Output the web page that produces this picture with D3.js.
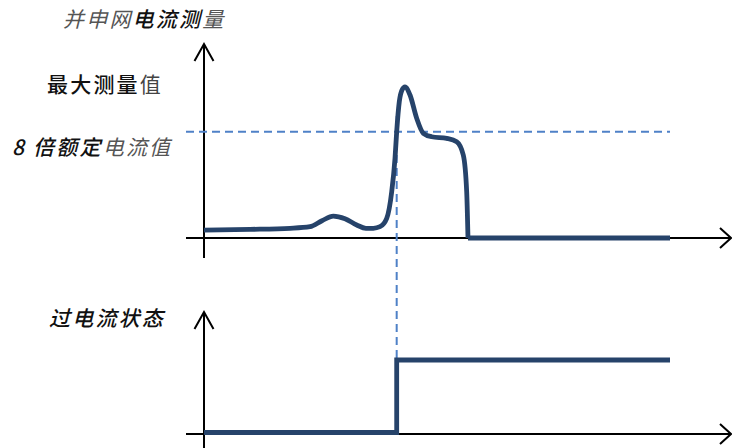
<!DOCTYPE html>
<html>
<head>
<meta charset="utf-8">
<script src="https://cdn.jsdelivr.net/npm/d3@7"></script>
<style>
  html, body { margin: 0; padding: 0; background: #fff; }
  svg { display: block; }
  text { font-family: "Noto Sans CJK SC", "Noto Sans", sans-serif; }
</style>
</head>
<body>
<svg id="chart" width="732" height="448"></svg>
<script>
// ---- data ----
// time (arbitrary units 0..100) and measured current (multiples of rated current)
const curveTime = [0, 9.87, 18.45, 22.75, 25.32, 27.75, 30.26, 32.77, 34.76, 36.33, 37.77, 39.21, 40.28, 40.99, 41.35, 41.91, 42.49, 43.13, 44.21, 45.64, 47.06, 48.86, 52.08, 54.23, 55.64, 56.37, 56.65];
const curveCurrent = [0.60, 0.65, 0.73, 0.85, 1.30, 1.65, 1.45, 0.98, 0.73, 0.73, 0.85, 1.48, 3.48, 6.00, 8.00, 10.26, 11.14, 11.38, 10.76, 9.01, 7.88, 7.62, 7.50, 7.25, 6.25, 3.48, 0];
const tailTime = [56.65, 100];
const tailCurrent = [0, 0];
// over-current state (0 = off, 1 = on)
const stateTime = [0, 41.35, 100];
const stateValue = [0, 1, 1];
const thresholdValue = 8;     // 8x rated current
const tripTime = 41.35;

// labels
const titleParts = [["并申网", "normal", "#555"], ["电流测", "500", "#111"], ["量", "normal", "#555"]];
const maxLabelParts = [["最大测量", "500", "#111"], ["值", "normal", "#444"]];
const thrLabelParts = [["8 倍额定", "500", "#111"], ["电流值", "normal", "#555"]];
const stateLabelParts = [["过电流状态", "500", "#111"]];

// ---- drawing ----
const svg = d3.select("#chart");
const lineColor = "#26436A";
const dashColor = "#4F81C7";

const x = d3.scaleLinear().domain([0, 100]).range([204, 670]);
const yTop = d3.scaleLinear().domain([0, 8]).range([238, 131.7]);
const yBot = d3.scaleLinear().domain([0, 1]).range([432.5, 360]);

// axes (plain arrows, no ticks)
function arrowAxes(originX, axisY, topY, bottomY, leftX, rightX) {
  const g = svg.append("g").attr("stroke", "#000").attr("stroke-width", 2).attr("fill", "none");
  g.append("line").attr("x1", originX).attr("x2", originX).attr("y1", bottomY).attr("y2", topY);
  g.append("path").attr("d", `M${originX - 9.5},${topY + 17}L${originX},${topY}L${originX + 9.5},${topY + 17}`);
  g.append("line").attr("x1", leftX).attr("x2", rightX).attr("y1", axisY).attr("y2", axisY);
  g.append("path").attr("d", `M${rightX - 11},${axisY - 10}L${rightX},${axisY}L${rightX - 11},${axisY + 10}`);
}
const x0 = x(0);
arrowAxes(x0, yTop(0), 44, 258, 186, 731);
arrowAxes(x0, yBot(0) + 1.5, 312, 448, 186, 731);

// dashed threshold line and trip line
svg.append("line")
  .attr("x1", 186).attr("x2", x(100))
  .attr("y1", yTop(thresholdValue)).attr("y2", yTop(thresholdValue))
  .attr("stroke", dashColor).attr("stroke-width", 2).attr("stroke-dasharray", "8,5");
svg.append("line")
  .attr("x1", x(tripTime)).attr("x2", x(tripTime))
  .attr("y1", 116).attr("y2", yBot(1))
  .attr("stroke", dashColor).attr("stroke-width", 2).attr("stroke-dasharray", "8,5");

// current curve
const curveData = curveTime.map((t, i) => [t, curveCurrent[i]]);
const tailData = tailTime.map((t, i) => [t, tailCurrent[i]]);
const smooth = d3.line().x(d => x(d[0])).y(d => yTop(d[1])).curve(d3.curveMonotoneX);
const straight = d3.line().x(d => x(d[0])).y(d => yTop(d[1]));
svg.append("path").attr("d", smooth(curveData))
  .attr("fill", "none").attr("stroke", lineColor).attr("stroke-width", 4.8)
  .attr("stroke-linejoin", "round").attr("stroke-linecap", "butt");
svg.append("path").attr("d", straight(tailData))
  .attr("fill", "none").attr("stroke", lineColor).attr("stroke-width", 4.8)
  .attr("stroke-linecap", "butt");

// state step line
const stateData = stateTime.map((t, i) => [t, stateValue[i]]);
const stepLine = d3.line().x(d => x(d[0])).y(d => yBot(d[1])).curve(d3.curveStepAfter);
svg.append("path").attr("d", stepLine(stateData))
  .attr("fill", "none").attr("stroke", lineColor).attr("stroke-width", 4.8)
  .attr("stroke-linejoin", "miter");

// labels
function label(parts, lx, ly, italic) {
  const t = svg.append("text").attr("x", lx).attr("y", ly)
    .attr("font-size", 21).attr("letter-spacing", 2.2)
    .attr("font-style", italic ? "italic" : "normal");
  parts.forEach(p => t.append("tspan").text(p[0]).attr("font-weight", p[1]).attr("fill", p[2]));
}
label(titleParts, 63, 27, true);
label(maxLabelParts, 47, 92, false);
label(thrLabelParts, 12, 155, true);
label(stateLabelParts, 49, 326, true);
</script>
</body>
</html>
